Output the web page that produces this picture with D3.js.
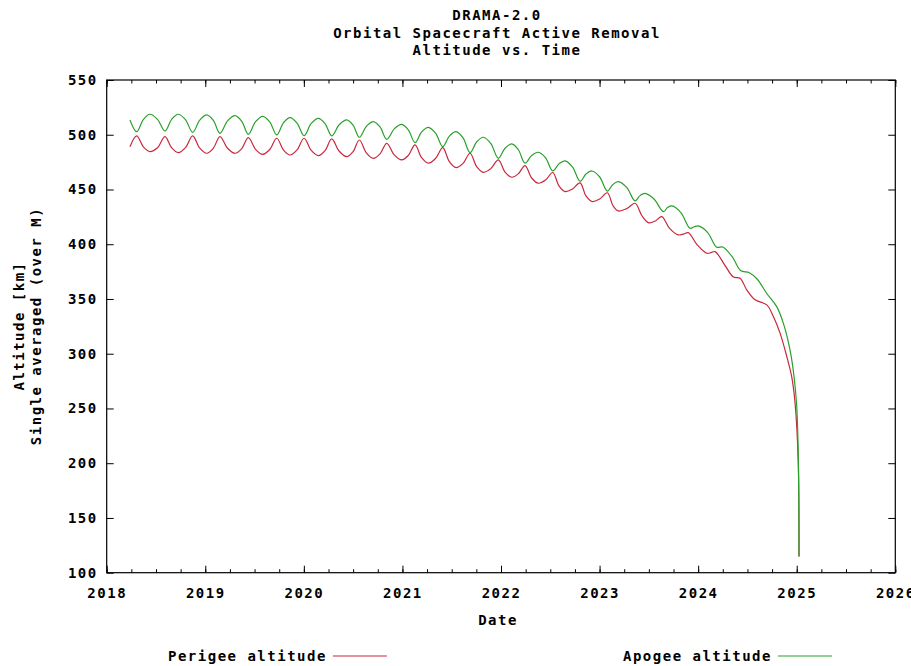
<!DOCTYPE html>
<html><head><meta charset="utf-8">
<script src="https://cdn.jsdelivr.net/npm/d3@7/dist/d3.min.js"></script>
<style>
body{margin:0;background:#fff;}
text{font-family:"DejaVu Sans Mono","Liberation Mono",monospace;font-weight:bold;font-size:14px;letter-spacing:1.5px;fill:#000;}
</style>
</head><body>
<svg id="chart" width="911" height="666"></svg>
<script>
// ---------- data ----------
const titleLines = ["DRAMA-2.0", "Orbital Spacecraft Active Removal", "Altitude vs. Time"];
const yLabelLines = ["Altitude [km]", "Single averaged (over M)"];
const xLabel = "Date";
const yearTicks = [2018, 2019, 2020, 2021, 2022, 2023, 2024, 2025, 2026];
const altTicks = [100, 150, 200, 250, 300, 350, 400, 450, 500, 550];
const seriesNames = ["Perigee altitude", "Apogee altitude"];

// [decimal year, altitude km]
const perigee = [
[2018.236,489.1],[2018.304,498.9],[2018.372,488.9],[2018.439,484.6],[2018.515,488.1],
[2018.591,498.3],[2018.659,488.1],[2018.726,483.7],[2018.799,488.3],[2018.872,498.9],
[2018.944,487.8],[2019.015,483.1],[2019.082,487.7],[2019.149,498.3],[2019.226,487.7],
[2019.302,483.1],[2019.370,487.4],[2019.437,497.4],[2019.510,486.7],[2019.583,482.1],
[2019.654,486.5],[2019.725,496.8],[2019.793,486.1],[2019.860,481.5],[2019.931,486.1],
[2020.002,496.8],[2020.075,485.7],[2020.147,480.9],[2020.215,485.5],[2020.283,496.2],
[2020.359,484.9],[2020.435,480.0],[2020.499,484.6],[2020.563,495.2],[2020.634,483.5],
[2020.705,478.5],[2020.773,482.6],[2020.841,492.2],[2020.917,481.6],[2020.993,477.0],
[2021.060,481.1],[2021.128,490.7],[2021.195,479.0],[2021.263,474.0],[2021.336,478.3],
[2021.409,488.2],[2021.476,475.5],[2021.544,470.0],[2021.615,473.9],[2021.686,483.1],
[2021.753,470.9],[2021.821,465.7],[2021.897,469.1],[2021.973,477.0],[2022.041,465.9],
[2022.109,461.2],[2022.176,464.4],[2022.244,471.8],[2022.311,460.5],[2022.379,455.7],
[2022.452,458.6],[2022.525,465.5],[2022.588,453.3],[2022.650,448.1],[2022.726,450.5],
[2022.802,456.0],[2022.862,444.1],[2022.923,439.0],[2023.001,441.4],[2023.079,447.0],
[2023.135,435.4],[2023.190,430.4],[2023.275,432.5],[2023.360,437.4],[2023.430,426.0],
[2023.500,419.5],[2023.570,421.5],[2023.631,425.2],[2023.710,414.5],[2023.799,408.5],
[2023.855,409.5],[2023.900,410.6],[2023.990,399.5],[2024.087,391.8],[2024.130,392.3],
[2024.171,393.3],[2024.270,381.0],[2024.358,370.0],[2024.425,369.0],[2024.493,358.3],
[2024.577,349.2],[2024.696,344.6],[2024.763,334.0],[2024.831,318.8],[2024.899,297.5],
[2024.949,279.0],[2024.983,255.0],[2025.016,200.0],[2025.023,114.9]
];
const apogee = [
[2018.236,513.5],[2018.304,502.8],[2018.372,513.9],[2018.439,518.7],[2018.515,514.1],
[2018.591,503.4],[2018.659,514.1],[2018.726,518.7],[2018.799,513.8],[2018.872,502.2],
[2018.944,513.3],[2019.015,518.1],[2019.082,513.1],[2019.149,501.3],[2019.226,512.6],
[2019.302,517.4],[2019.370,512.3],[2019.437,500.4],[2019.510,511.9],[2019.583,516.8],
[2019.654,511.7],[2019.725,499.8],[2019.793,510.9],[2019.860,515.6],[2019.931,510.7],
[2020.002,499.2],[2020.075,510.3],[2020.147,515.0],[2020.215,510.2],[2020.283,498.9],
[2020.359,509.1],[2020.435,513.5],[2020.499,508.8],[2020.563,497.7],[2020.634,507.7],
[2020.705,512.0],[2020.773,507.1],[2020.841,495.8],[2020.917,505.4],[2020.993,509.5],
[2021.060,504.5],[2021.128,492.8],[2021.195,502.6],[2021.263,506.8],[2021.336,501.5],
[2021.409,489.1],[2021.476,498.7],[2021.544,502.8],[2021.615,497.1],[2021.686,483.7],
[2021.753,493.5],[2021.821,497.7],[2021.897,491.9],[2021.973,478.5],[2022.041,487.7],
[2022.109,491.6],[2022.176,486.3],[2022.244,474.0],[2022.311,481.0],[2022.379,484.0],
[2022.452,478.9],[2022.525,467.0],[2022.588,473.4],[2022.650,476.1],[2022.726,470.5],
[2022.802,457.5],[2022.862,464.1],[2022.923,466.9],[2023.001,461.4],[2023.079,448.5],
[2023.135,454.6],[2023.190,457.2],[2023.275,451.9],[2023.360,439.6],[2023.410,444.4],
[2023.461,446.5],[2023.550,441.5],[2023.648,429.8],[2023.690,433.5],[2023.732,435.0],
[2023.825,428.9],[2023.917,414.6],[2023.960,416.0],[2024.002,416.7],[2024.095,410.9],
[2024.189,397.3],[2024.250,397.5],[2024.350,388.0],[2024.430,376.0],[2024.520,374.0],
[2024.600,368.0],[2024.696,355.0],[2024.797,343.0],[2024.864,328.0],[2024.932,303.5],
[2024.973,279.0],[2025.000,252.0],[2025.016,206.0],[2025.023,114.9]
];

// ---------- layout / style ----------
const colors = ["#c8283c", "#2aa02a"];
const L = 106.7, R = 895.3, T = 80, B = 572.7;
const svg = d3.select("#chart");

const x = d3.scaleLinear().domain([yearTicks[0], yearTicks[yearTicks.length - 1]]).range([L, R]);
const y = d3.scaleLinear().domain([altTicks[0], altTicks[altTicks.length - 1]]).range([B, T]);

const minorTicks = d3.range(yearTicks[0], yearTicks[yearTicks.length - 1] + 0.001, 0.25);

function styleAxis(g) {
  g.select(".domain").remove();
  g.selectAll("line").attr("stroke", "#000").attr("stroke-width", 1);
  g.selectAll("text").attr("font-family", null).attr("font-size", null);
}

// minor x ticks (bottom/top)
svg.append("g").attr("transform", `translate(0,${B})`)
  .call(d3.axisBottom(x).tickValues(minorTicks).tickSize(-3.5).tickSizeOuter(0).tickFormat(""))
  .call(styleAxis);
svg.append("g").attr("transform", `translate(0,${T})`)
  .call(d3.axisTop(x).tickValues(minorTicks).tickSize(-3.5).tickSizeOuter(0).tickFormat(""))
  .call(styleAxis);
// major x ticks
svg.append("g").attr("transform", `translate(0,${B})`)
  .call(d3.axisBottom(x).tickValues(yearTicks).tickSize(-7).tickSizeOuter(0).tickPadding(15).tickFormat(d3.format("d")))
  .call(styleAxis);
svg.append("g").attr("transform", `translate(0,${T})`)
  .call(d3.axisTop(x).tickValues(yearTicks).tickSize(-7).tickSizeOuter(0).tickFormat(""))
  .call(styleAxis);
// y ticks
svg.append("g").attr("transform", `translate(${L},0)`)
  .call(d3.axisLeft(y).tickValues(altTicks).tickSize(-7).tickSizeOuter(0).tickPadding(9).tickFormat(d3.format("d")))
  .call(styleAxis);
svg.append("g").attr("transform", `translate(${R},0)`)
  .call(d3.axisRight(y).tickValues(altTicks).tickSize(-7).tickSizeOuter(0).tickFormat(""))
  .call(styleAxis);

// border
svg.append("rect").attr("x", L).attr("y", T).attr("width", R - L).attr("height", B - T)
  .attr("fill", "none").attr("stroke", "#000").attr("stroke-width", 1.2);

// lines
const line = d3.line().x(d => x(d[0])).y(d => y(d[1])).curve(d3.curveCatmullRom.alpha(0.5));
[perigee, apogee].forEach((s, i) => {
  svg.append("path").datum(s).attr("d", line)
    .attr("fill", "none").attr("stroke", colors[i]).attr("stroke-width", 1.2);
});

// title
titleLines.forEach((t, i) => {
  svg.append("text").attr("x", 497).attr("y", 20 + i * 17.5).attr("text-anchor", "middle").text(t);
});
// axis labels
svg.append("text").attr("x", 498).attr("y", 625).attr("text-anchor", "middle").text(xLabel);
yLabelLines.forEach((t, i) => {
  svg.append("text").attr("transform", `translate(${24 + i * 17},326) rotate(-90)`)
    .attr("text-anchor", "middle").text(t);
});

// legend
const legendX = [168, 623];
seriesNames.forEach((n, i) => {
  const tx = svg.append("text").attr("x", legendX[i]).attr("y", 661).text(n);
  const w = tx.node().getComputedTextLength();
  svg.append("line").attr("x1", legendX[i] + w + 6).attr("x2", legendX[i] + w + 60)
    .attr("y1", 656).attr("y2", 656).attr("stroke", colors[i]).attr("stroke-width", 1.2);
});
</script>
</body></html>
